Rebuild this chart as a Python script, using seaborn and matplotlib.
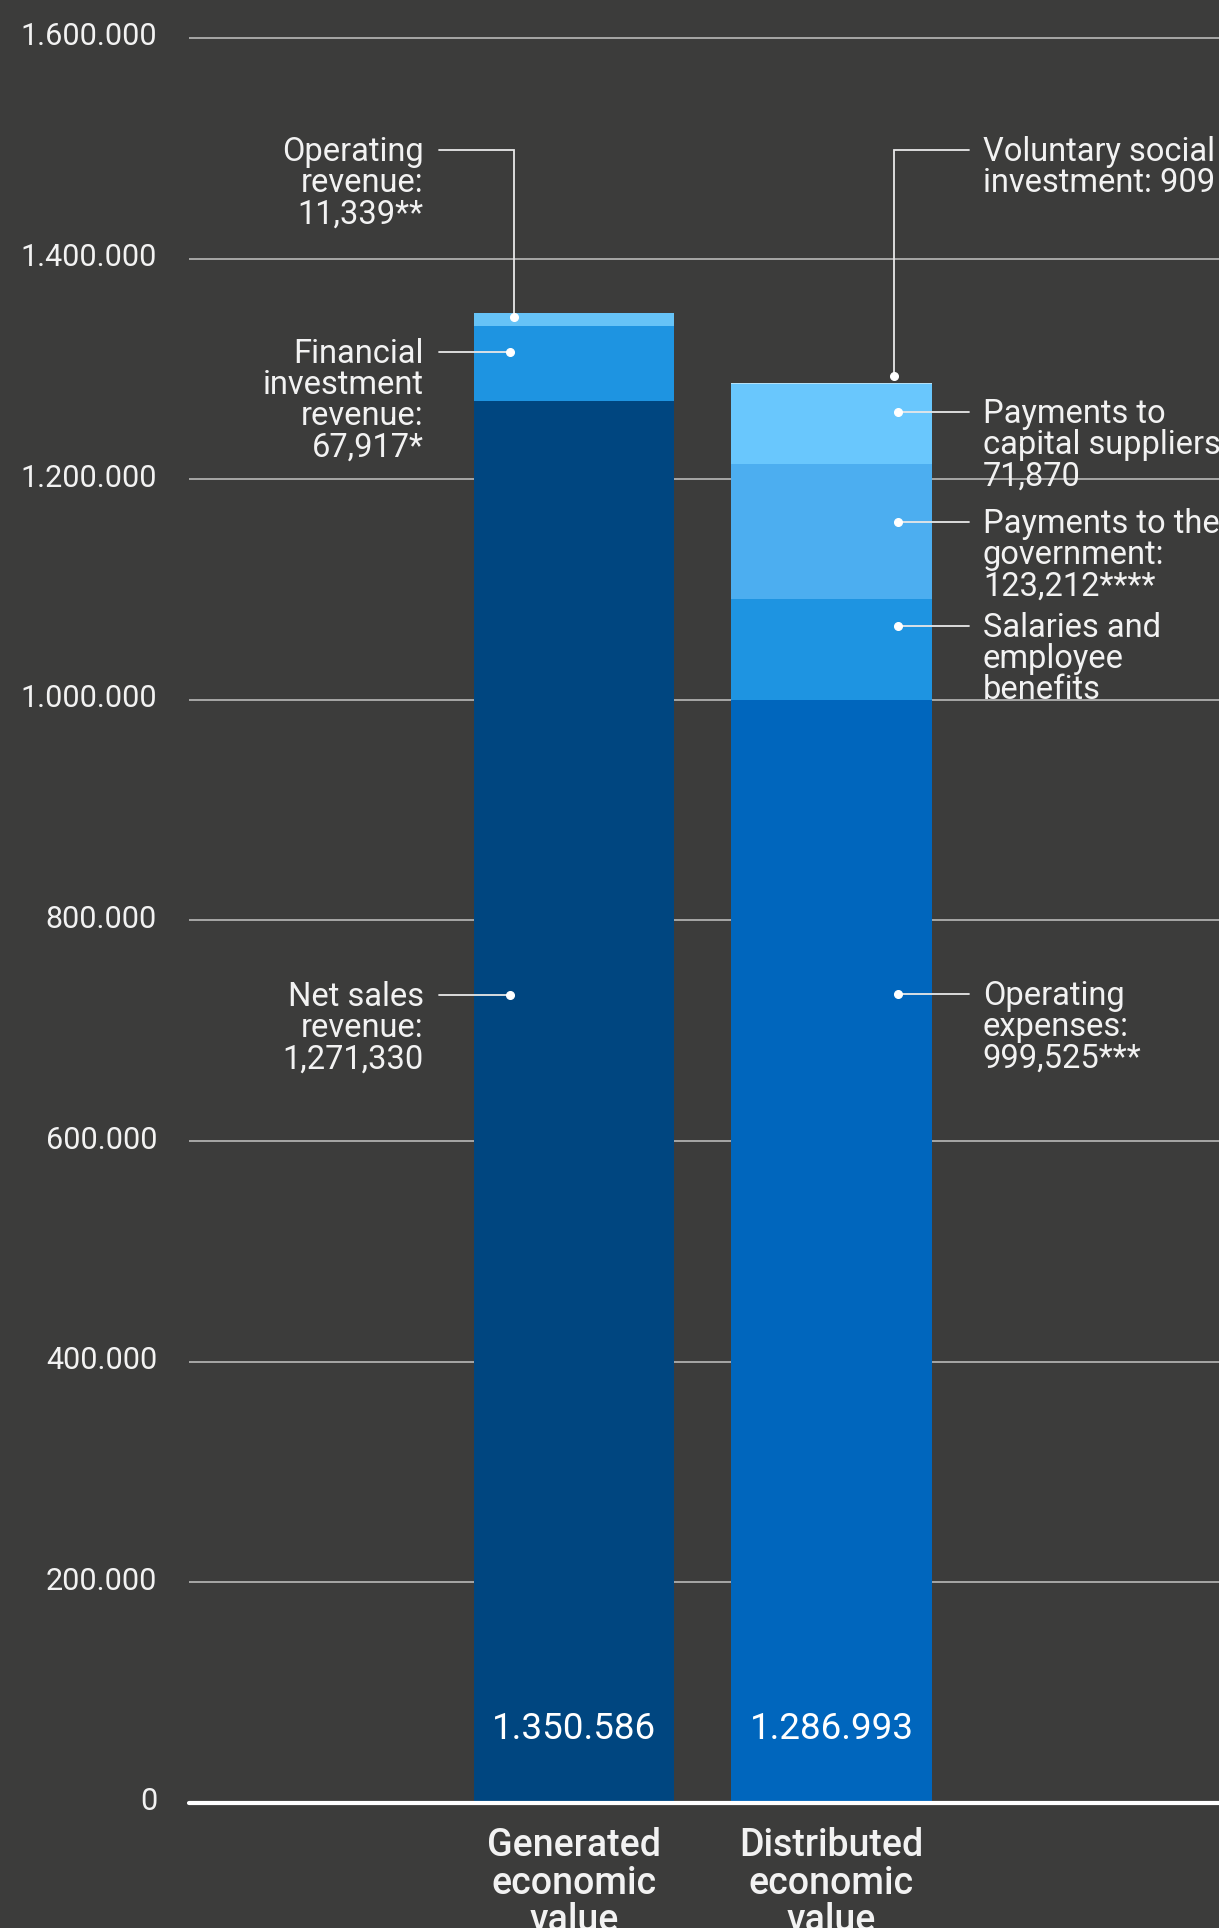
import matplotlib
matplotlib.use("Agg")
import matplotlib.pyplot as plt
import matplotlib.transforms as mtransforms
import seaborn as sns
import numpy as np
import pandas as pd

# ---- data -------------------------------------------------------------
categories = ["Generated\neconomic\nvalue", "Distributed\neconomic\nvalue"]

generated_parts = ["Net sales revenue", "Financial investment revenue", "Operating revenue"]
generated_values = [1271330, 67917, 11339]

distributed_parts = ["Operating expenses", "Salaries and employee benefits",
                     "Payments to the government", "Payments to capital suppliers",
                     "Voluntary social investment"]
distributed_values = [999525, 91477, 123212, 71870, 909]

total_labels = ["1.350.586", "1.286.993"]
y_ticks = [0, 200000, 400000, 600000, 800000, 1000000, 1200000, 1400000, 1600000]

# ---- style ------------------------------------------------------------
BG = "#3c3c3b"
TXT = "#f2f2f2"
generated_colors = ["#004680", "#1e94e1", "#66c3f7"]
distributed_colors = ["#0066bd", "#1e94e1", "#4caef0", "#69c7fd", "#b4e1f7"]

sns.set_style("dark")
plt.rcParams["font.family"] = ["Roboto", "DejaVu Sans"]

fig = plt.figure(figsize=(12.19, 19.28), dpi=100, facecolor=BG)
ax = fig.add_axes([189 / 1219, 125 / 1928, 1030 / 1219, 1803 / 1928])
ax.set_facecolor(BG)

BAR_W = 0.777

# stacked bars: draw cumulative heights from the top layer down
for cat, vals, cols in [(categories[0], generated_values, generated_colors),
                        (categories[1], distributed_values, distributed_colors)]:
    cum = np.cumsum(vals)
    for j in reversed(range(len(vals))):
        df = pd.DataFrame({"cat": [cat], "val": [cum[j]]})
        sns.barplot(data=df, x="cat", y="val", order=categories, color=cols[j],
                    saturation=1, width=BAR_W, linewidth=0, ax=ax, zorder=2)

ax.set_xlim(-1.495, 2.505)
ax.set_ylim(0, 1600000 * 1803 / 1765)
ax.set_xlabel("")
ax.set_ylabel("")
for s in ax.spines.values():
    s.set_visible(False)

# grid + y labels
ax.set_yticks(y_ticks)
ax.set_yticklabels([f"{v:,}".replace(",", ".") for v in y_ticks])
ax.yaxis.grid(True, color="#c4c4c4", linewidth=1.1)
ax.xaxis.grid(False)
ax.set_axisbelow(True)
ax.tick_params(axis="y", length=0, pad=23, labelsize=22, labelcolor=TXT)
ax.tick_params(axis="x", length=0, pad=17.5, labelsize=27, labelcolor=TXT)
lift = mtransforms.ScaledTranslation(0, 4 / 100, fig.dpi_scale_trans)
for lbl in ax.get_yticklabels():
    lbl.set_transform(lbl.get_transform() + lift)
for lbl in ax.get_xticklabels():
    lbl.set_fontweight("medium")
    lbl.set_linespacing(1.01)
    lbl.set_verticalalignment("top")

# baseline
ax.axhline(0, color="white", linewidth=3, solid_capstyle="round", zorder=4, clip_on=False)

# totals inside bars
for i, t in enumerate(total_labels):
    ax.text(i, 67000, t, ha="center", va="center", color="white", fontsize=26.5, zorder=5)

# ---- leader labels ----------------------------------------------------
FS = 23.5
LINE_PT = 22.3
BASE_PT = 8.2
LC = "#e8e8e8"


def leader(lines, text_y, dot_x, dot_y, side):
    if side == "left":
        x0, tx, ha = -0.524, -0.583, "right"
    else:
        x0, tx, ha = 1.534, 1.588, "left"
    ax.plot([x0, dot_x, dot_x], [text_y, text_y, dot_y], color=LC, lw=1.3,
            zorder=6, clip_on=False, solid_joinstyle="miter")
    ax.plot([dot_x], [dot_y], "o", color="white", ms=5.5, zorder=7, clip_on=False)
    for k, line in enumerate(lines):
        ax.annotate(line, xy=(tx, text_y), xycoords="data",
                    xytext=(0, -BASE_PT - k * LINE_PT), textcoords="offset points",
                    ha=ha, va="baseline", fontsize=FS, color=TXT, annotation_clip=False)


leader(["Operating", "revenue:", f"{generated_values[2]:,}**"], 1498470, -0.233, 1347080, "left")
leader(["Financial", "investment", "revenue:", f"{generated_values[1]:,}*"], 1315354, -0.249, 1315354, "left")
leader(["Net sales", "revenue:", f"{generated_values[0]:,}"], 732465, -0.249, 732465, "left")

leader(["Voluntary social", f"investment: {distributed_values[4]:,}"], 1498470, 1.243, 1293500, "right")
leader(["Payments to", "capital suppliers:", f"{distributed_values[3]:,}"], 1260963, 1.258, 1260963, "right")
leader(["Payments to the", "government:", f"{distributed_values[2]:,}****"], 1161246, 1.258, 1161246, "right")
leader(["Salaries and", "employee", "benefits"], 1066969, 1.258, 1066969, "right")
leader(["Operating", "expenses:", f"{distributed_values[0]:,}***"], 733371, 1.258, 733371, "right")

fig.savefig("out.png", dpi=100, facecolor=BG)
